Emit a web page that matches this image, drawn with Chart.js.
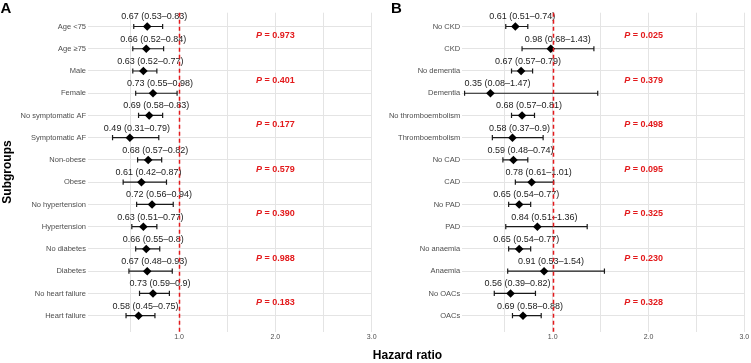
<!DOCTYPE html>
<html>
<head>
<meta charset="utf-8">
<script src="https://cdn.jsdelivr.net/npm/chart.js@4.4.1/dist/chart.umd.min.js"></script>
<style>
  html, body { margin: 0; padding: 0; background: #ffffff; }
  #wrap { position: relative; width: 751px; height: 363px; overflow: hidden; background: #fff; }
  #wrap canvas { position: absolute; left: 0; top: 0; }
</style>
</head>
<body>
<div id="wrap">
  <canvas id="chartA" width="751" height="363"></canvas>
  <canvas id="chartB" width="751" height="363"></canvas>
</div>
<script>
// ---------- DATA ----------
const subgroupsA = ['Age <75', 'Age \u226575', 'Male', 'Female', 'No symptomatic AF', 'Symptomatic AF',
  'Non-obese', 'Obese', 'No hypertension', 'Hypertension', 'No diabetes', 'Diabetes',
  'No heart failure', 'Heart failure'];
const hrA    = [0.67, 0.66, 0.63, 0.73, 0.69, 0.49, 0.68, 0.61, 0.72, 0.63, 0.66, 0.67, 0.73, 0.58];
const lowerA = [0.53, 0.52, 0.52, 0.55, 0.58, 0.31, 0.57, 0.42, 0.56, 0.51, 0.55, 0.48, 0.59, 0.45];
const upperA = [0.83, 0.84, 0.77, 0.98, 0.83, 0.79, 0.82, 0.87, 0.94, 0.77, 0.8, 0.93, 0.9, 0.75];
const pValuesA = ['0.973', '0.401', '0.177', '0.579', '0.390', '0.988', '0.183'];

const subgroupsB = ['No CKD', 'CKD', 'No dementia', 'Dementia', 'No thromboembolism', 'Thromboembolism',
  'No CAD', 'CAD', 'No PAD', 'PAD', 'No anaemia', 'Anaemia', 'No OACs', 'OACs'];
const hrB    = [0.61, 0.98, 0.67, 0.35, 0.68, 0.58, 0.59, 0.78, 0.65, 0.84, 0.65, 0.91, 0.56, 0.69];
const lowerB = [0.51, 0.68, 0.57, 0.08, 0.57, 0.37, 0.48, 0.61, 0.54, 0.51, 0.54, 0.53, 0.39, 0.58];
const upperB = [0.74, 1.43, 0.79, 1.47, 0.81, 0.9, 0.74, 1.01, 0.77, 1.36, 0.77, 1.54, 0.82, 0.88];
const pValuesB = ['0.025', '0.379', '0.498', '0.095', '0.325', '0.230', '0.328'];

const xTickLabels = [1, 2, 3];          // labelled ticks
const xGridValues = [0.5, 1, 1.5, 2, 2.5, 3]; // grid lines (major + minor)
const referenceLine = 1;
const xLabel = 'Hazard ratio';
const yLabel = 'Subgroups';

// ---------- STYLE ----------
const FONT = "'Liberation Sans', Arial, Helvetica, sans-serif";
Chart.defaults.font.family = FONT;
const RED = '#e31a1c';
const GRID = '#e4e4e4';
const AXIS_TEXT = '#4d4d4d';

function makePanel(canvasId, cfg) {
  const cats = cfg.cats;
  const annot = {
    id: 'forestAnnot_' + canvasId,
    beforeDatasetsDraw(chart) {
      const ctx = chart.ctx, xs = chart.scales.x, ys = chart.scales.y;
      ctx.save();
      ctx.strokeStyle = '#1a1a1a';
      ctx.lineWidth = 1.2;
      for (let i = 0; i < cats.length; i++) {
        const y = ys.getPixelForValue(i);
        const x1 = xs.getPixelForValue(cfg.lo[i]);
        const x2 = xs.getPixelForValue(cfg.hi[i]);
        ctx.beginPath();
        ctx.moveTo(x1, y); ctx.lineTo(x2, y);
        ctx.moveTo(x1, y - 2.6); ctx.lineTo(x1, y + 2.6);
        ctx.moveTo(x2, y - 2.6); ctx.lineTo(x2, y + 2.6);
        ctx.stroke();
      }
      ctx.restore();
    },
    afterDatasetsDraw(chart) {
      const ctx = chart.ctx, xs = chart.scales.x, ys = chart.scales.y, area = chart.chartArea;
      ctx.save();
      // CI labels
      ctx.font = '9px ' + FONT;
      ctx.fillStyle = '#222222';
      ctx.textAlign = 'center';
      ctx.textBaseline = 'middle';
      for (let i = 0; i < cats.length; i++) {
        const txt = String(cfg.hr[i]) + ' (' + String(cfg.lo[i]) + '\u2013' + String(cfg.hi[i]) + ')';
        ctx.fillText(txt, xs.getPixelForValue(cfg.hr[i]) + 7, ys.getPixelForValue(i) - 9.5);
      }
      // P values
      for (let k = 0; k < cfg.p.length; k++) {
        const cx = xs.getPixelForValue(cfg.pX);
        const cy = ys.getPixelForValue(2 * k + 0.5) - 2;
        ctx.font = 'italic bold 9px ' + FONT;
        const wP = ctx.measureText('P').width;
        ctx.font = 'bold 9px ' + FONT;
        const rest = ' = ' + cfg.p[k];
        const wR = ctx.measureText(rest).width;
        const sx = cx - (wP + wR) / 2;
        ctx.fillStyle = RED;
        ctx.textAlign = 'left';
        ctx.font = 'italic bold 9px ' + FONT;
        ctx.fillText('P', sx, cy);
        ctx.font = 'bold 9px ' + FONT;
        ctx.fillText(rest, sx + wP, cy);
      }
      // reference line
      const rx = Math.round(xs.getPixelForValue(referenceLine)) + 0.5;
      ctx.strokeStyle = RED;
      ctx.lineWidth = 1.5;
      ctx.setLineDash([4, 3]);
      ctx.beginPath();
      ctx.moveTo(rx, area.top);
      ctx.lineTo(rx, area.bottom);
      ctx.stroke();
      ctx.setLineDash([]);
      // panel letter
      ctx.fillStyle = '#000';
      ctx.font = 'bold 15px ' + FONT;
      ctx.textAlign = 'left';
      ctx.textBaseline = 'alphabetic';
      ctx.fillText(cfg.letter, cfg.letterX, 13);
      if (cfg.drawTitles) {
        ctx.font = 'bold 12px ' + FONT;
        ctx.textAlign = 'center';
        ctx.textBaseline = 'middle';
        ctx.fillText(xLabel, 407.5, 356);
        ctx.save();
        ctx.translate(8, 172);
        ctx.rotate(-Math.PI / 2);
        ctx.fillText(yLabel, 0, 0);
        ctx.restore();
      }
      ctx.restore();
    }
  };

  return new Chart(document.getElementById(canvasId), {
    type: 'scatter',
    data: {
      datasets: [{
        data: cfg.hr.map((v, i) => ({ x: v, y: i })),
        pointStyle: 'rectRot',
        pointRadius: 4.3,
        pointHoverRadius: 4.3,
        backgroundColor: '#000000',
        borderWidth: 0
      }]
    },
    options: {
      responsive: false,
      animation: false,
      events: [],
      layout: { padding: { left: 0, top: 12.7, right: cfg.padRight, bottom: 0 } },
      plugins: { legend: { display: false }, tooltip: { enabled: false } },
      scales: {
        x: {
          type: 'linear',
          min: 0.05,
          max: 3,
          afterBuildTicks: (s) => { s.ticks = xGridValues.map(v => ({ value: v })); },
          afterFit: (s) => { s.height = 31.3; },
          ticks: {
            autoSkip: false,
            maxRotation: 0,
            padding: 1,
            color: AXIS_TEXT,
            font: { size: 7 },
            callback: (v) => xTickLabels.includes(v) ? v.toFixed(1) : ''
          },
          grid: { color: GRID, lineWidth: 1, drawTicks: false },
          border: { display: false }
        },
        y: {
          type: 'linear',
          reverse: true,
          min: -0.62,
          max: 13.72,
          afterBuildTicks: (s) => { s.ticks = cats.map((c, i) => ({ value: i })); },
          afterFit: (s) => { s.width = cfg.axisWidth; },
          ticks: {
            autoSkip: false,
            padding: 1.5,
            color: AXIS_TEXT,
            font: { size: 7.5 },
            callback: (v) => cats[v]
          },
          grid: { color: GRID, lineWidth: 1, drawTicks: false },
          border: { display: false }
        }
      }
    },
    plugins: [annot]
  });
}

makePanel('chartA', {
  cats: subgroupsA, hr: hrA, lo: lowerA, hi: upperA, p: pValuesA,
  pX: 2.0, padRight: 379.3, axisWidth: 87.5, letter: 'A', letterX: 0.5, drawTitles: true
});
makePanel('chartB', {
  cats: subgroupsB, hr: hrB, lo: lowerB, hi: upperB, p: pValuesB,
  pX: 1.95, padRight: 6.7, axisWidth: 461.7, letter: 'B', letterX: 391, drawTitles: false
});
</script>
</body>
</html>
